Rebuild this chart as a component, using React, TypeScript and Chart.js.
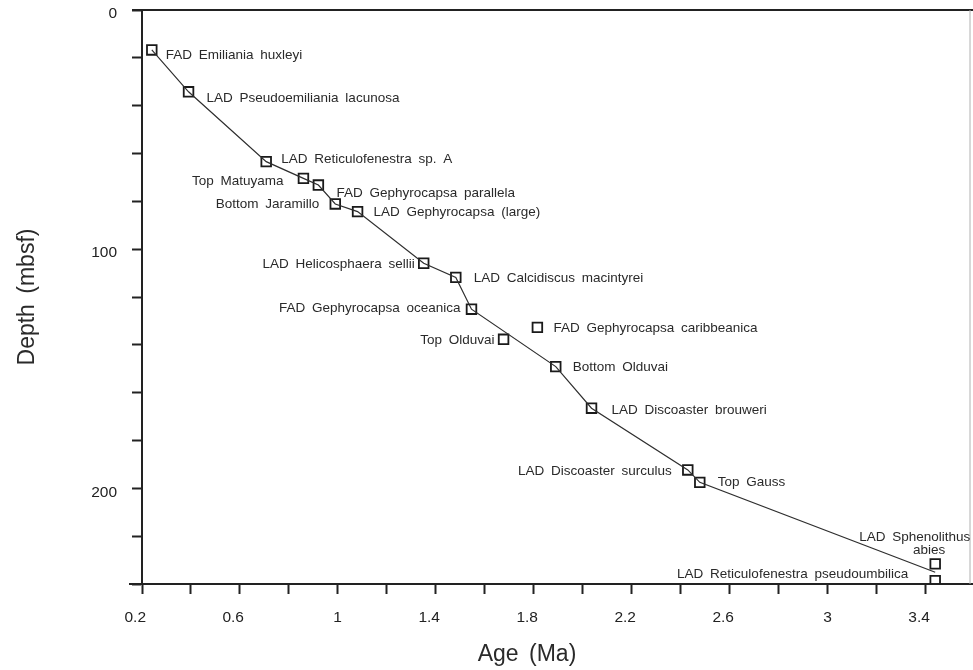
import React, { useEffect, useRef } from 'react';
import { Chart, registerables } from 'chart.js';

Chart.register(...registerables);

// ---- data ----
const datumNames = [
  'FAD Emiliania huxleyi',
  'LAD Pseudoemiliania lacunosa',
  'LAD Reticulofenestra sp. A',
  'Top Matuyama',
  'FAD Gephyrocapsa parallela',
  'Bottom Jaramillo',
  'LAD Gephyrocapsa (large)',
  'LAD Helicosphaera sellii',
  'LAD Calcidiscus macintyrei',
  'FAD Gephyrocapsa oceanica',
  'FAD Gephyrocapsa caribbeanica',
  'Top Olduvai',
  'Bottom Olduvai',
  'LAD Discoaster brouweri',
  'LAD Discoaster surculus',
  'Top Gauss',
  'LAD Sphenolithus abies',
  'LAD Reticulofenestra pseudoumbilica',
];
const datumAges = [0.24, 0.39, 0.707, 0.859, 0.92, 0.989, 1.08, 1.35, 1.481, 1.545, 1.814, 1.676, 1.889, 2.035, 2.428, 2.477, 3.438, 3.438];
const datumDepths = [16.7, 34.2, 63.4, 70.4, 73.2, 81.1, 84.3, 105.9, 111.8, 125.1, 132.7, 137.7, 149.1, 166.5, 192.3, 197.5, 231.6, 238.6];

// age-depth model line tie points
const modelAges = [0.24, 0.39, 0.707, 0.859, 0.92, 0.989, 1.08, 1.35, 1.481, 1.545, 1.889, 2.035, 2.428, 2.477, 3.438];
const modelDepths = [16.7, 34.2, 63.4, 70.4, 73.2, 81.1, 84.3, 105.9, 111.8, 125.1, 149.1, 166.5, 192.3, 197.5, 235.1];

const ageLabelValues = [0.2, 0.6, 1, 1.4, 1.8, 2.2, 2.6, 3, 3.4];
const depthLabelValues = [0, 100, 200];
const xTitle = 'Age (Ma)';
const yTitle = 'Depth (mbsf)';

// ---- label layout (separate from data) ----
const labelSide = ['r', 'r', 'r', 'l', 'r', 'l', 'r', 'l', 'r', 'l', 'r', 'l', 'r', 'r', 'l', 'r', 'stack', 'l'];
const labelGap = [14, 18, 15, 20, 18, 16, 16, 9, 18, 11, 16, 9, 17, 20, 16, 18, 0, 27];
const labelShift = [5, 6, -2, 3, 8, 0, 1, 1, 1, -1, 1, 1, 1, 2, 1, 0, 0, -6];

const INK = '#222';
const FONT = '"Liberation Sans", Arial, Helvetica, sans-serif';

const labelPlugin = {
  id: 'datumLabels',
  beforeDraw(chart: any) {
    (chart.ctx as any).wordSpacing = '4px';
  },
  afterDraw(chart: any) {
    const { ctx, chartArea, scales } = chart;
    const xs = scales.x;
    const ys = scales.y;
    ctx.save();
    // frame extensions
    ctx.strokeStyle = INK;
    ctx.lineWidth = 2;
    ctx.beginPath();
    ctx.moveTo(chartArea.left - 10, chartArea.top);
    ctx.lineTo(chart.width, chartArea.top);
    ctx.moveTo(chartArea.left - 13, chartArea.bottom);
    ctx.lineTo(chartArea.left, chartArea.bottom);
    ctx.moveTo(chartArea.right, chartArea.bottom);
    ctx.lineTo(chart.width, chartArea.bottom);
    ctx.stroke();
    ctx.strokeStyle = '#b0b0b0';
    ctx.lineWidth = 1;
    ctx.beginPath();
    ctx.moveTo(chartArea.right, chartArea.top);
    ctx.lineTo(chartArea.right, chartArea.bottom);
    ctx.stroke();

    // datum labels
    ctx.fillStyle = '#2a2a2a';
    ctx.font = `13.5px ${FONT}`;
    (ctx as any).wordSpacing = '3px';
    ctx.textBaseline = 'middle';
    datumNames.forEach((name, i) => {
      const px = xs.getPixelForValue(datumAges[i]);
      const py = ys.getPixelForValue(datumDepths[i]);
      const side = labelSide[i];
      if (side === 'stack') {
        const words = name.split(' ');
        ctx.textAlign = 'right';
        ctx.fillText(words.slice(0, 2).join(' '), Math.min(px + 35, chart.width - 2), py - 27);
        ctx.textAlign = 'center';
        ctx.fillText(words.slice(2).join(' '), px - 6, py - 14);
      } else if (side === 'l') {
        ctx.textAlign = 'right';
        ctx.fillText(name, px - labelGap[i], py + labelShift[i]);
      } else {
        ctx.textAlign = 'left';
        ctx.fillText(name, px + labelGap[i], py + labelShift[i]);
      }
    });

    // x axis title
    ctx.fillStyle = '#2a2a2a';
    ctx.font = `23px ${FONT}`;
    (ctx as any).wordSpacing = '4px';
    ctx.textAlign = 'center';
    ctx.textBaseline = 'middle';
    ctx.fillText(xTitle, chartArea.left + (chartArea.right - chartArea.left) * 0.465, 655);
    ctx.restore();
  },
};

export default function App() {
  const ref = useRef<HTMLCanvasElement | null>(null);
  useEffect(() => {
    if (!ref.current) return;
    const chart = new Chart(ref.current, {
      type: 'scatter',
      data: {
        datasets: [
          {
            type: 'line',
            label: 'Age model',
            data: modelAges.map((a, i) => ({ x: a, y: modelDepths[i] })),
            borderColor: '#2e2e2e',
            borderWidth: 1.2,
            pointRadius: 0,
            fill: false,
            tension: 0,
            showLine: true,
          } as any,
          {
            type: 'scatter',
            label: 'Datums',
            data: datumAges.map((a, i) => ({ x: a, y: datumDepths[i] })),
            pointStyle: 'rect',
            pointRadius: 6.8,
            pointHoverRadius: 6.8,
            borderColor: '#1a1a1a',
            borderWidth: 1.8,
            backgroundColor: 'rgba(0,0,0,0)',
          } as any,
        ],
      },
      options: {
        animation: false,
        responsive: false,
        devicePixelRatio: 1,
        layout: { autoPadding: false, padding: { top: 10, right: 3, left: 0, bottom: 0 } },
        plugins: { legend: { display: false }, tooltip: { enabled: false } },
        scales: {
          x: {
            type: 'linear',
            min: 0.2,
            max: 3.58,
            afterFit(s: any) {
              s.height = 86;
              s.paddingLeft = 0;
              s.paddingRight = 0;
            },
            ticks: {
              stepSize: 0.2,
              includeBounds: false,
              autoSkip: false,
              maxRotation: 0,
              align: 'end',
              labelOffset: 4,
              padding: 14,
              color: INK,
              font: { family: FONT, size: 15.5 },
              callback: (value: any) => {
                const v = Number(value);
                return ageLabelValues.some((a) => Math.abs(a - v) < 1e-6) ? String(parseFloat(v.toFixed(1))) : '';
              },
            },
            grid: { drawOnChartArea: false, drawTicks: true, tickLength: 10, tickWidth: 2, color: INK },
            border: { display: true, width: 2, color: INK },
            title: { display: false },
          },
          y: {
            type: 'linear',
            reverse: true,
            min: 0,
            max: 240,
            afterFit(s: any) {
              s.width = 142;
              s.paddingTop = 0;
              s.paddingBottom = 0;
            },
            ticks: {
              stepSize: 20,
              autoSkip: false,
              padding: 15,
              labelOffset: 4,
              color: INK,
              font: { family: FONT, size: 15.5 },
              callback: (value: any) => (depthLabelValues.includes(Number(value)) ? String(value) : ''),
            },
            grid: { drawOnChartArea: false, drawTicks: true, tickLength: 10, tickWidth: 2, color: INK },
            border: { display: true, width: 2, color: INK },
            title: {
              display: true,
              text: yTitle,
              color: '#2a2a2a',
              font: { family: FONT, size: 23, weight: 'normal' },
              padding: { top: 14, bottom: 0 },
            },
          },
        },
      } as any,
      plugins: [labelPlugin as any],
    });
    return () => chart.destroy();
  }, []);

  return (
    <div style={{ position: 'absolute', left: 0, top: 0, width: 973, height: 670, background: '#fff' }}>
      <canvas ref={ref} width={973} height={670} style={{ display: 'block', width: 973, height: 670 }} />
    </div>
  );
}
